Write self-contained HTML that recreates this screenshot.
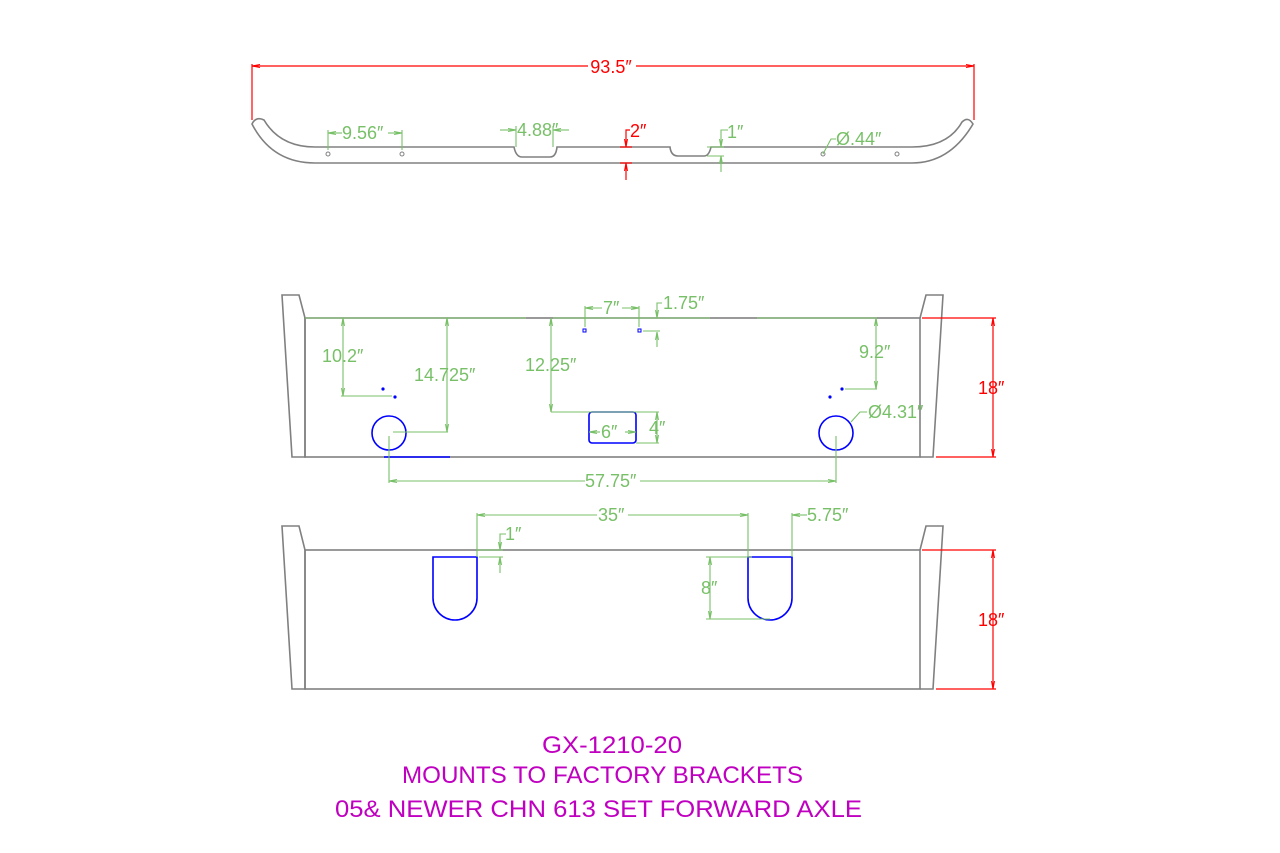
<!DOCTYPE html>
<html><head><meta charset="utf-8"><style>html,body{margin:0;padding:0;background:#fff}svg{display:block}</style></head>
<body>
<svg width="1280" height="853" viewBox="0 0 1280 853" xmlns="http://www.w3.org/2000/svg" font-family="Liberation Sans, sans-serif">
<defs>
<marker id="ag" markerWidth="8" markerHeight="6" refX="8" refY="3" orient="auto-start-reverse" markerUnits="userSpaceOnUse"><path d="M0,1.5 L8,3 L0,4.5" fill="none" stroke="#78c068" stroke-width="1"/></marker>
<marker id="ar" markerWidth="8" markerHeight="6" refX="8" refY="3" orient="auto-start-reverse" markerUnits="userSpaceOnUse"><path d="M0,1.5 L8,3 L0,4.5" fill="none" stroke="#f00" stroke-width="1"/></marker>
</defs>
<g fill="none" stroke="#808080" stroke-width="1.6">
<path d="M252,124 Q256,116 264,120 Q280,147 315,147 L514,147 Q516,157 522,157 L550,157 Q556,157 557,147 L670,147 Q671,156 678,156 L704,156 Q709,156 711,147 L912,147 Q948,147 962,122 Q968,116 973,124 Q950,163 912,163 L315,163 Q272,163 252,124 Z"/>
<circle cx="328" cy="154" r="2" stroke-width="1"/><circle cx="402" cy="154" r="2" stroke-width="1"/>
<circle cx="823" cy="154" r="2" stroke-width="1"/><circle cx="897" cy="154" r="2" stroke-width="1"/>
<path d="M282,295 L299,295 L305,318 L305,457 L292,457 Z"/>
<rect x="305" y="318" width="615" height="139"/>
<path d="M920,318 L926,295 L943,295 L933,457 L920,457"/>
<path d="M282,526 L299,526 L305,550 L305,689 L292,689 Z"/>
<rect x="305" y="550" width="615" height="139"/>
<path d="M920,550 L926,526 L943,526 L933,689 L920,689"/>
</g>
<g fill="none" stroke="#0000ff" stroke-width="1.6">
<circle cx="389" cy="433" r="17"/><circle cx="836" cy="433" r="17"/>
<rect x="589" y="412" width="47" height="31" rx="3"/>
<line x1="384" y1="457" x2="450" y2="457"/>
<rect x="583" y="329" width="3" height="3" stroke-width="1"/><rect x="638" y="329" width="3" height="3" stroke-width="1"/>
<path d="M433,557 L477,557 L477,598 A22,22 0 0 1 433,598 Z"/>
<path d="M748,557 L792,557 L792,598 A22,22 0 0 1 748,598 Z"/>
</g>
<g fill="#0000ff"><circle cx="383" cy="389" r="1.6"/><circle cx="395" cy="397" r="1.6"/><circle cx="830" cy="397" r="1.6"/><circle cx="842" cy="389" r="1.6"/></g>
<g stroke="#f00" stroke-width="1.2" fill="none">
<line x1="252" y1="64" x2="252" y2="120"/><line x1="974" y1="64" x2="974" y2="120"/>
<line x1="252" y1="66" x2="588" y2="66" marker-start="url(#ar)"/><line x1="636" y1="66" x2="974" y2="66" marker-end="url(#ar)"/>
<line x1="620" y1="147" x2="632" y2="147"/><line x1="620" y1="163" x2="632" y2="163"/>
<path d="M630,130 L626,130 L626,147" marker-end="url(#ar)"/><line x1="626" y1="180" x2="626" y2="163" marker-end="url(#ar)"/>
<line x1="922" y1="318" x2="996" y2="318"/><line x1="936" y1="457" x2="996" y2="457"/>
<line x1="993" y1="318" x2="993" y2="457" marker-start="url(#ar)" marker-end="url(#ar)"/>
<line x1="922" y1="550" x2="996" y2="550"/><line x1="936" y1="689" x2="996" y2="689"/>
<line x1="993" y1="550" x2="993" y2="689" marker-start="url(#ar)" marker-end="url(#ar)"/>
</g>
<g fill="#f00" font-size="18">
<text x="611" y="73" text-anchor="middle">93.5″</text>
<text x="630" y="137">2″</text>
<text x="978" y="394">18″</text><text x="978" y="626">18″</text>
</g>
<g stroke="#78c068" stroke-width="1.1" fill="none">
<line x1="328" y1="130" x2="328" y2="150"/><line x1="402" y1="130" x2="402" y2="150"/>
<line x1="328" y1="133" x2="342" y2="133" marker-start="url(#ag)"/><line x1="388" y1="133" x2="402" y2="133" marker-end="url(#ag)"/>
<line x1="516" y1="126" x2="516" y2="147"/><line x1="553" y1="126" x2="553" y2="147"/>
<line x1="500" y1="130" x2="516" y2="130" marker-end="url(#ag)"/><line x1="569" y1="130" x2="553" y2="130" marker-end="url(#ag)"/>
<line x1="707" y1="147" x2="724" y2="147"/><line x1="707" y1="156" x2="724" y2="156"/>
<path d="M728,130 L721,130 L721,147" marker-end="url(#ag)"/><line x1="721" y1="172" x2="721" y2="156" marker-end="url(#ag)"/>
<path d="M823,154 L831,139 L836,139"/>
<line x1="305" y1="318" x2="526" y2="318"/><line x1="553" y1="318" x2="710" y2="318"/><line x1="757" y1="318" x2="877" y2="318"/>
<line x1="343" y1="318" x2="343" y2="396" marker-start="url(#ag)" marker-end="url(#ag)"/><line x1="341" y1="396" x2="392" y2="396"/>
<line x1="447" y1="318" x2="447" y2="432" marker-start="url(#ag)" marker-end="url(#ag)"/><line x1="393" y1="432" x2="448" y2="432"/>
<line x1="551" y1="318" x2="551" y2="412" marker-start="url(#ag)" marker-end="url(#ag)"/><line x1="551" y1="412" x2="659" y2="412"/>
<line x1="636" y1="443" x2="659" y2="443"/><line x1="657" y1="412" x2="657" y2="443" marker-start="url(#ag)" marker-end="url(#ag)"/>
<line x1="589" y1="432" x2="600" y2="432" marker-start="url(#ag)"/><line x1="625" y1="432" x2="636" y2="432" marker-end="url(#ag)"/>
<line x1="585" y1="306" x2="585" y2="327"/><line x1="639" y1="306" x2="639" y2="327"/>
<line x1="585" y1="308" x2="602" y2="308" marker-start="url(#ag)"/><line x1="622" y1="308" x2="639" y2="308" marker-end="url(#ag)"/>
<path d="M662,303 L657,303 L657,318" marker-end="url(#ag)"/><line x1="657" y1="347" x2="657" y2="332" marker-end="url(#ag)"/><line x1="643" y1="331" x2="660" y2="331"/>
<line x1="876" y1="318" x2="876" y2="389" marker-start="url(#ag)" marker-end="url(#ag)"/><line x1="845" y1="389" x2="877" y2="389"/>
<path d="M851,422 L860,412 L867,412"/>
<line x1="389" y1="436" x2="389" y2="483"/><line x1="836" y1="436" x2="836" y2="483"/>
<line x1="389" y1="481" x2="585" y2="481" marker-start="url(#ag)"/><line x1="640" y1="481" x2="836" y2="481" marker-end="url(#ag)"/>
<line x1="477" y1="513" x2="477" y2="557"/><line x1="748" y1="513" x2="748" y2="557"/><line x1="792" y1="513" x2="792" y2="557"/>
<line x1="477" y1="515" x2="597" y2="515" marker-start="url(#ag)"/><line x1="628" y1="515" x2="748" y2="515" marker-end="url(#ag)"/>
<line x1="807" y1="515" x2="792" y2="515" marker-end="url(#ag)"/>
<line x1="477" y1="550" x2="503" y2="550"/><line x1="479" y1="557" x2="503" y2="557"/>
<path d="M506,534 L500,534 L500,550" marker-end="url(#ag)"/><line x1="500" y1="573" x2="500" y2="557" marker-end="url(#ag)"/>
<line x1="706" y1="557" x2="752" y2="557"/><line x1="706" y1="619" x2="770" y2="619"/>
<line x1="710" y1="557" x2="710" y2="619" marker-start="url(#ag)" marker-end="url(#ag)"/>
</g>
<g fill="#78c068" font-size="18">
<text x="342" y="139">9.56″</text>
<text x="517" y="136">4.88″</text>
<text x="727" y="138">1″</text>
<text x="836" y="145">Ø.44″</text>
<text x="603" y="314">7″</text>
<text x="663" y="309">1.75″</text>
<text x="322" y="362">10.2″</text>
<text x="414" y="381">14.725″</text>
<text x="525" y="371">12.25″</text>
<text x="859" y="358">9.2″</text>
<text x="868" y="418">Ø4.31″</text>
<text x="601" y="438">6″</text>
<text x="649" y="434">4″</text>
<text x="585" y="487">57.75″</text>
<text x="598" y="521">35″</text>
<text x="807" y="521">5.75″</text>
<text x="505" y="540">1″</text>
<text x="701" y="594">8″</text>
</g>
<g fill="#c000c0" font-size="24">
<text x="542" y="753" textLength="140" lengthAdjust="spacingAndGlyphs">GX-1210-20</text>
<text x="402" y="783" textLength="401" lengthAdjust="spacingAndGlyphs">MOUNTS TO FACTORY BRACKETS</text>
<text x="335" y="817" textLength="527" lengthAdjust="spacingAndGlyphs">05&amp; NEWER CHN 613 SET FORWARD AXLE</text>
</g>
</svg>
</body></html>
